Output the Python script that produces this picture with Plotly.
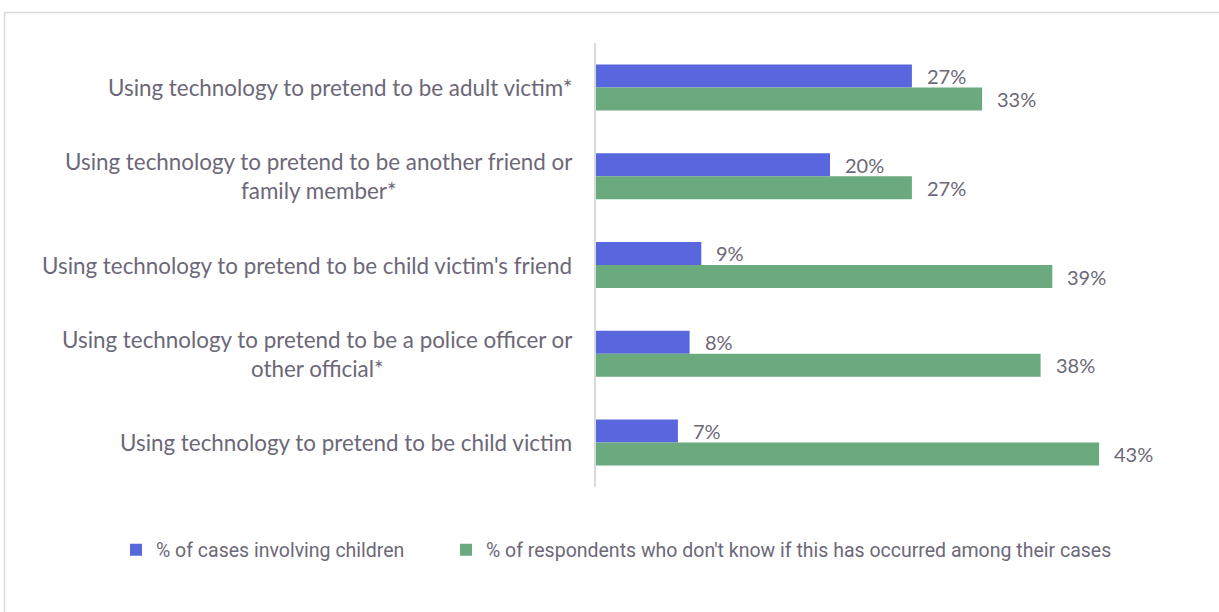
import plotly.graph_objects as go

# Categories, top to bottom
categories = [
    "Using technology to pretend to be adult victim*",
    "Using technology to pretend to be another friend or<br>family member*",
    "Using technology to pretend to be child victim's friend",
    "Using technology to pretend to be a police officer or<br>other official*",
    "Using technology to pretend to be child victim",
]
cases_children = [27, 20, 9, 8, 7]
dont_know = [33, 27, 39, 38, 43]

series_names = [
    "% of cases involving children",
    "% of respondents who don't know if this has occurred among their cases",
]
colors = ["#5867DD", "#6AAA7E"]
text_color = "#6c6878"

# Figure geometry (pixels)
W, H = 1219, 612
left, right, top, bottom = 596, 38, 43, 125
plot_w = W - left - right
plot_h = H - top - bottom
x_max = 50

def px_to_paper_x(px):
    return (px - left) / plot_w

def px_to_paper_y(py):
    return (H - bottom - py) / plot_h

fig = go.Figure()
legend_ids = ["legend", "legend2"]
for name, vals, col, lg in zip(series_names, [cases_children, dont_know], colors, legend_ids):
    fig.add_trace(go.Bar(
        y=list(range(len(categories))), x=vals, name=name, orientation="h",
        marker=dict(color=col, line=dict(width=0)),
        hoverinfo="x+name", legend=lg,
    ))

annotations = []
# value labels next to each bar
for ti, vals in enumerate([cases_children, dont_know]):
    offset = -0.13 if ti == 0 else 0.13
    for i, v in enumerate(vals):
        annotations.append(dict(
            x=v, y=i + offset, xref="x", yref="y", text=f"{v}%",
            showarrow=False, xanchor="left", yanchor="middle", xshift=13,
            font=dict(family="Lato, Open Sans, sans-serif", size=20, color=text_color),
        ))
# category labels, centred multi-line
for i, c in enumerate(categories):
    annotations.append(dict(
        x=0, y=i, xref="paper", yref="y", text=c, showarrow=False,
        xanchor="right", yanchor="middle", align="center", xshift=-22,
        font=dict(family="Lato, Open Sans, sans-serif", size=22.4, color=text_color),
    ))

shapes = [
    # outer frame (top and left edges)
    dict(type="line", xref="paper", yref="paper",
         x0=px_to_paper_x(4.5), x1=px_to_paper_x(W + 10),
         y0=px_to_paper_y(12.5), y1=px_to_paper_y(12.5),
         line=dict(color="#d9d9d9", width=1.5)),
    dict(type="line", xref="paper", yref="paper",
         x0=px_to_paper_x(4.5), x1=px_to_paper_x(4.5),
         y0=px_to_paper_y(12.5), y1=px_to_paper_y(H + 10),
         line=dict(color="#d9d9d9", width=1.5)),
]

legend_font = dict(family="Roboto, sans-serif", size=19.5, color=text_color)

fig.update_layout(
    width=W, height=H,
    margin=dict(l=left, r=right, t=top, b=bottom, pad=0),
    paper_bgcolor="white", plot_bgcolor="white",
    barmode="group", bargap=0.482, bargroupgap=0,
    xaxis=dict(range=[0, x_max], visible=False, fixedrange=True),
    yaxis=dict(range=[len(categories) - 0.5, -0.5], showticklabels=False,
               showgrid=False, zeroline=False, showline=True,
               linecolor="#d9d9d9", linewidth=1.5, ticks=""),
    showlegend=True,
    legend=dict(orientation="h", xref="paper", yref="paper",
                x=px_to_paper_x(116), y=px_to_paper_y(550),
                xanchor="left", yanchor="middle", font=legend_font,
                bgcolor="rgba(0,0,0,0)"),
    legend2=dict(orientation="h", xref="paper", yref="paper",
                 x=px_to_paper_x(446), y=px_to_paper_y(550),
                 xanchor="left", yanchor="middle", font=legend_font,
                 bgcolor="rgba(0,0,0,0)"),
    annotations=annotations,
    shapes=shapes,
)

fig.write_html("out.html")
